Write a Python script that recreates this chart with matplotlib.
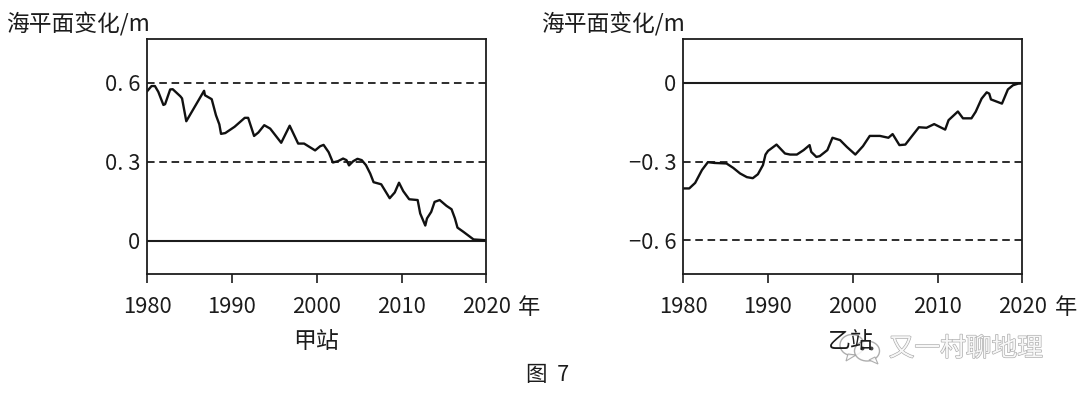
import matplotlib
matplotlib.use("Agg")
import matplotlib.pyplot as plt
from matplotlib.patches import Ellipse, Polygon
import matplotlib.patheffects as pe

plt.rcParams["font.family"] = ["Noto Sans CJK SC", "DejaVu Sans"]

W, H = 1080, 395
INK = "#1c1c1c"

# 甲站
years_a = [1980, 1980.5, 1980.9, 1981.3, 1981.9, 1982.1, 1982.7, 1983.0, 1983.9, 1984.1, 1984.6,
           1986.7, 1986.8, 1987.6, 1988.1, 1988.5, 1988.7, 1989.2, 1990.3, 1991.5, 1991.9, 1992.6,
           1993.1, 1993.8, 1994.5, 1995.8, 1996.8, 1997.8, 1998.5, 1999.8, 2000.4, 2000.8, 2001.4,
           2001.9, 2002.5, 2003.1, 2003.5, 2003.8, 2004.3, 2004.8, 2005.3, 2005.8, 2006.3, 2006.7,
           2007.6, 2008.6, 2009.2, 2009.7, 2010.2, 2010.9, 2011.9, 2012.2, 2012.8, 2013.0, 2013.5,
           2013.9, 2014.5, 2015.3, 2015.9, 2016.3, 2016.6, 2017.3, 2018.5, 2020]
level_a = [.569, .588, .588, .566, .516, .519, .575, .576, .549, .541, .454,
           .570, .553, .538, .477, .442, .406, .409, .433, .467, .467, .398,
           .411, .439, .426, .372, .437, .369, .369, .343, .359, .364, .336,
           .297, .302, .312, .306, .286, .302, .311, .306, .287, .255, .222,
           .214, .161, .183, .220, .188, .157, .154, .103, .057, .084, .109,
           .147, .154, .132, .119, .084, .049, .033, .004, .001]

# 乙站
years_b = [1980, 1980.7, 1981.4, 1982.2, 1982.9, 1983.7, 1985.1, 1985.9, 1986.7, 1987.5, 1988.2,
           1988.8, 1989.4, 1989.7, 1990.0, 1991.0, 1992.0, 1992.6, 1993.4, 1994.2, 1994.9, 1995.1,
           1995.7, 1996.1, 1997.0, 1997.6, 1998.5, 1999.3, 2000.3, 2001.2, 2002.0, 2003.2, 2004.2,
           2004.7, 2005.5, 2006.2, 2006.9, 2007.8, 2008.7, 2009.6, 2010.9, 2011.3, 2012.4, 2013.0,
           2014.0, 2014.5, 2015.2, 2015.8, 2016.1, 2016.3, 2017.6, 2018.3, 2018.9, 2019.5, 2020]
level_b = [-.402, -.402, -.381, -.332, -.302, -.305, -.307, -.324, -.345, -.359, -.363,
           -.348, -.313, -.273, -.259, -.235, -.269, -.273, -.273, -.256, -.237, -.263,
           -.282, -.279, -.256, -.209, -.218, -.244, -.273, -.241, -.202, -.202, -.209,
           -.195, -.237, -.235, -.206, -.169, -.171, -.157, -.178, -.142, -.109, -.135,
           -.135, -.110, -.060, -.036, -.041, -.063, -.079, -.025, -.009, -.003, -.002]

x_ticks = [1980, 1990, 2000, 2010, 2020]
y_ticks_a = [0, 0.3, 0.6]
y_labels_a = ["0", "0. 3", "0. 6"]
y_ticks_b = [-0.6, -0.3, 0]
y_labels_b = ["\u22120. 6", "\u22120. 3", "0"]


def px_text(fig, x, y, s, **kw):
    kw.setdefault("color", INK)
    kw.setdefault("ha", "center")
    kw.setdefault("va", "center")
    fig.text(x / W, 1 - y / H, s, **kw)


def draw_panel(fig, left, years, level, y_ticks, y_labels, ylim, solid):
    ax = fig.add_axes([left / W, 1 - 273.5 / H, 339 / W, 235 / H])
    for v in y_ticks:
        if v == solid:
            ax.axhline(v, color=INK, lw=1.5)
        else:
            ax.axhline(v, color=INK, lw=1.3, dashes=(4.2, 2.6))
    ax.plot(years, level, color="#111111", lw=1.7, solid_joinstyle="round")
    ax.set_xlim(1980, 2020)
    ax.set_ylim(*ylim)
    ax.set_xticks(x_ticks)
    ax.set_yticks(y_ticks, y_labels)
    ax.tick_params(axis="x", length=6.5, width=1.2, labelsize=15.8, pad=10, color=INK, labelcolor=INK)
    ax.tick_params(axis="y", length=0, labelsize=15.8, pad=5, labelcolor=INK)
    for s in ax.spines.values():
        s.set_linewidth(1.3)
        s.set_color(INK)
    return ax


fig = plt.figure(figsize=(W / 100, H / 100), dpi=100)

draw_panel(fig, 147.3, years_a, level_a, y_ticks_a, y_labels_a, (-0.1256, 0.769), 0)
draw_panel(fig, 683.3, years_b, level_b, y_ticks_b, y_labels_b, (-0.726, 0.169), 0)

px_text(fig, 6, 24, "海平面变化/m", fontsize=16.4, ha="left")
px_text(fig, 541, 24, "海平面变化/m", fontsize=16.4, ha="left")
px_text(fig, 529, 307, "年", fontsize=16)
px_text(fig, 1066, 307, "年", fontsize=16)
px_text(fig, 315.5, 341, "甲站", fontsize=16.5)
px_text(fig, 851, 341, "乙站", fontsize=16.5)
px_text(fig, 526, 375, "图  7", fontsize=15.5, ha="left")

# watermark
overlay = fig.add_axes([0, 0, 1, 1], facecolor="none")
overlay.set_xlim(0, W)
overlay.set_ylim(H, 0)
overlay.axis("off")
for cx, cy, w, h, tail in [(852, 345, 24, 21, [(848, 354), (846, 361), (856, 355)]),
                           (867, 351, 25, 20, [(869, 360), (878, 364), (875, 357)])]:
    overlay.add_patch(Ellipse((cx, cy), w, h, fc="white", ec="#a0a0a0", lw=1.0, alpha=0.85))
    overlay.add_patch(Polygon(tail, closed=True, fc="white", ec="#a0a0a0", lw=0.8, alpha=0.85))
overlay.plot([862, 871], [348, 348], ls="none", marker="o", ms=1.8, color="#444444")
px_text(fig, 966, 349, "又一村聊地理", fontsize=18.5, color="#f7f7f7",
        path_effects=[pe.withStroke(linewidth=0.9, foreground="#a8a8a8")])

fig.savefig("out.png", dpi=100)
